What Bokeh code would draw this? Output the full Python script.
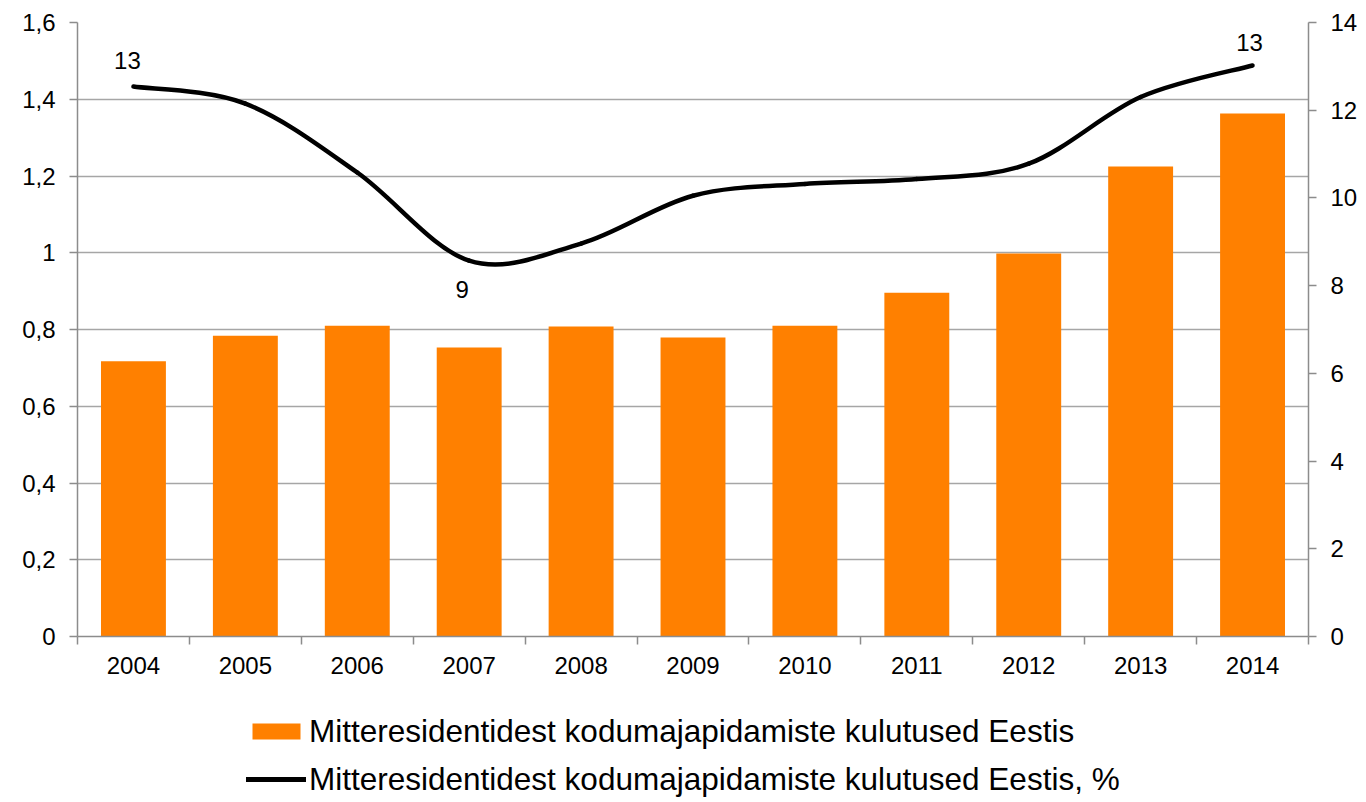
import numpy as np
from bokeh.plotting import figure
from bokeh.layouts import column
from bokeh.models import (Range1d, LinearAxis, FixedTicker, Legend, LegendItem,
                          ColumnDataSource)
from bokeh.embed import file_html
from bokeh.resources import INLINE
from bokeh.core.properties import value

# ---- data ----
years = ["2004", "2005", "2006", "2007", "2008", "2009", "2010", "2011", "2012", "2013", "2014"]
spending = [0.717, 0.784, 0.81, 0.753, 0.808, 0.779, 0.81, 0.896, 0.998, 1.225, 1.363]
share_pct = [12.54, 12.15, 10.58, 8.57, 8.96, 10.05, 10.32, 10.43, 10.78, 12.30, 13.02]
label_idx = [0, 3, 10]
label_side = ["above", "below", "above"]
left_ticks = [0, 0.2, 0.4, 0.6, 0.8, 1.0, 1.2, 1.4, 1.6]
left_tick_labels = ["0", "0,2", "0,4", "0,6", "0,8", "1", "1,2", "1,4", "1,6"]
right_ticks = [0, 2, 4, 6, 8, 10, 12, 14]
bar_name = "Mitteresidentidest kodumajapidamiste kulutused Eestis"
line_name = "Mitteresidentidest kodumajapidamiste kulutused Eestis, %"

FONT = "Liberation Sans"
AXIS_COL = "#8c8c8c"
GRID_COL = "#a6a6a6"
ORANGE = "#FF8000"

n = len(years)
xs = np.arange(n, dtype=float)

# smoothed line geometry (cubic Bezier segments, Catmull-Rom style control points)
ys = np.array(share_pct)
xp = np.concatenate([[xs[0]], xs, [xs[-1]]])
yp = np.concatenate([[ys[0]], ys, [ys[-1]]])
bez = dict(
    x0=xs[:-1], y0=ys[:-1], x1=xs[1:], y1=ys[1:],
    cx0=xs[:-1] + (xp[2:n + 1] - xp[0:n - 1]) / 6.0,
    cy0=ys[:-1] + (yp[2:n + 1] - yp[0:n - 1]) / 6.0,
    cx1=xs[1:] - (xp[3:n + 2] - xp[1:n]) / 6.0,
    cy1=ys[1:] - (yp[3:n + 2] - yp[1:n]) / 6.0,
)

p = figure(width=1360, height=690, output_backend="svg", toolbar_location=None,
           x_range=Range1d(-0.5, n - 0.5), y_range=Range1d(0, 1.6),
           min_border_left=77, min_border_right=50, min_border_top=22,
           min_border_bottom=54)
p.outline_line_color = None
p.background_fill_color = "white"
p.border_fill_color = "white"
p.extra_y_ranges = {"pct": Range1d(0, 14)}

# bars
p.vbar(x=xs, top=spending, width=0.58, bottom=0, fill_color=ORANGE, line_color=None)

# smoothed line
p.bezier(**bez, line_color="black", line_width=4.5, line_cap="round", y_range_name="pct")

# data labels
lab_src = ColumnDataSource(dict(
    x=[xs[i] for i in label_idx],
    y=[share_pct[i] for i in label_idx],
    t=[f"{round(share_pct[i])}" for i in label_idx],
    off=[-26, 29, -23],
    dx=[-6, -7, -3],
))
p.text(x="x", y="y", text="t", source=lab_src, y_offset="off", x_offset="dx",
       text_align="center", text_baseline="middle", text_font=value(FONT),
       text_font_size="24px", text_color="black", y_range_name="pct")

# x axis
xa = p.xaxis[0]
xa.ticker = FixedTicker(ticks=list(xs), minor_ticks=list(np.arange(n + 1) - 0.5))
xa.major_label_overrides = {int(i): y for i, y in zip(range(n), years)}
xa.major_tick_out = 0
xa.major_tick_in = 0
xa.minor_tick_out = 8
xa.minor_tick_in = 0
xa.minor_tick_line_color = AXIS_COL
xa.minor_tick_line_width = 1.5
xa.axis_line_color = AXIS_COL
xa.axis_line_width = 1.5
xa.major_label_text_font = FONT
xa.major_label_text_font_size = "24px"
xa.major_label_text_color = "black"
xa.major_label_standoff = 12

# left axis
ya = p.yaxis[0]
ya.ticker = FixedTicker(ticks=left_ticks)
ya.major_label_overrides = {t: l for t, l in zip(left_ticks, left_tick_labels)}
ya.major_tick_out = 8
ya.major_tick_in = 0
ya.minor_tick_out = 0
ya.minor_tick_in = 0
ya.major_tick_line_color = AXIS_COL
ya.major_tick_line_width = 1.5
ya.axis_line_color = AXIS_COL
ya.axis_line_width = 1.5
ya.major_label_text_font = FONT
ya.major_label_text_font_size = "24px"
ya.major_label_text_color = "black"
ya.major_label_standoff = 14

# right axis
ra = LinearAxis(y_range_name="pct", ticker=FixedTicker(ticks=right_ticks))
ra.major_tick_out = 8
ra.major_tick_in = 0
ra.minor_tick_out = 0
ra.minor_tick_in = 0
ra.major_tick_line_color = AXIS_COL
ra.major_tick_line_width = 1.5
ra.axis_line_color = AXIS_COL
ra.axis_line_width = 1.5
ra.major_label_text_font = FONT
ra.major_label_text_font_size = "24px"
ra.major_label_text_color = "black"
ra.major_label_standoff = 14
p.add_layout(ra, "right")

# grid
p.xgrid.visible = False
p.ygrid.ticker = FixedTicker(ticks=left_ticks)
p.ygrid.grid_line_color = GRID_COL
p.ygrid.grid_line_width = 1.5

# ---- legend strip (separate figure under the chart) ----
lg = figure(width=1360, height=110, output_backend="svg", toolbar_location=None,
            x_range=Range1d(-0.5, n - 0.5), y_range=Range1d(0, 1.6),
            x_axis_type=None, y_axis_type=None,
            min_border_left=0, min_border_right=0, min_border_top=0,
            min_border_bottom=0)
lg.outline_line_color = None
lg.background_fill_color = "white"
lg.border_fill_color = "white"
lg.xgrid.visible = False
lg.ygrid.visible = False
lg_bars = lg.vbar(x=xs, top=spending, width=0.58, bottom=0, fill_color=ORANGE,
                  line_color=None, visible=False)
lg_line = lg.line(x=xs, y=share_pct, line_color="black", line_width=5,
                  line_cap="round", visible=False)

legend = Legend(items=[LegendItem(label=bar_name, renderers=[lg_bars]),
                       LegendItem(label=line_name, renderers=[lg_line])],
                orientation="vertical", location=(169, 2),
                glyph_width=60, glyph_height=20, label_standoff=3,
                label_text_font=FONT, label_text_font_size="31.5px",
                label_text_color="black", label_height=38, spacing=10,
                border_line_color=None, background_fill_alpha=0,
                inactive_fill_alpha=0,
                padding=0, margin=0)
lg.add_layout(legend)

layout = column(p, lg, spacing=0)
open("out.html", "w").write(file_html(layout, INLINE))
